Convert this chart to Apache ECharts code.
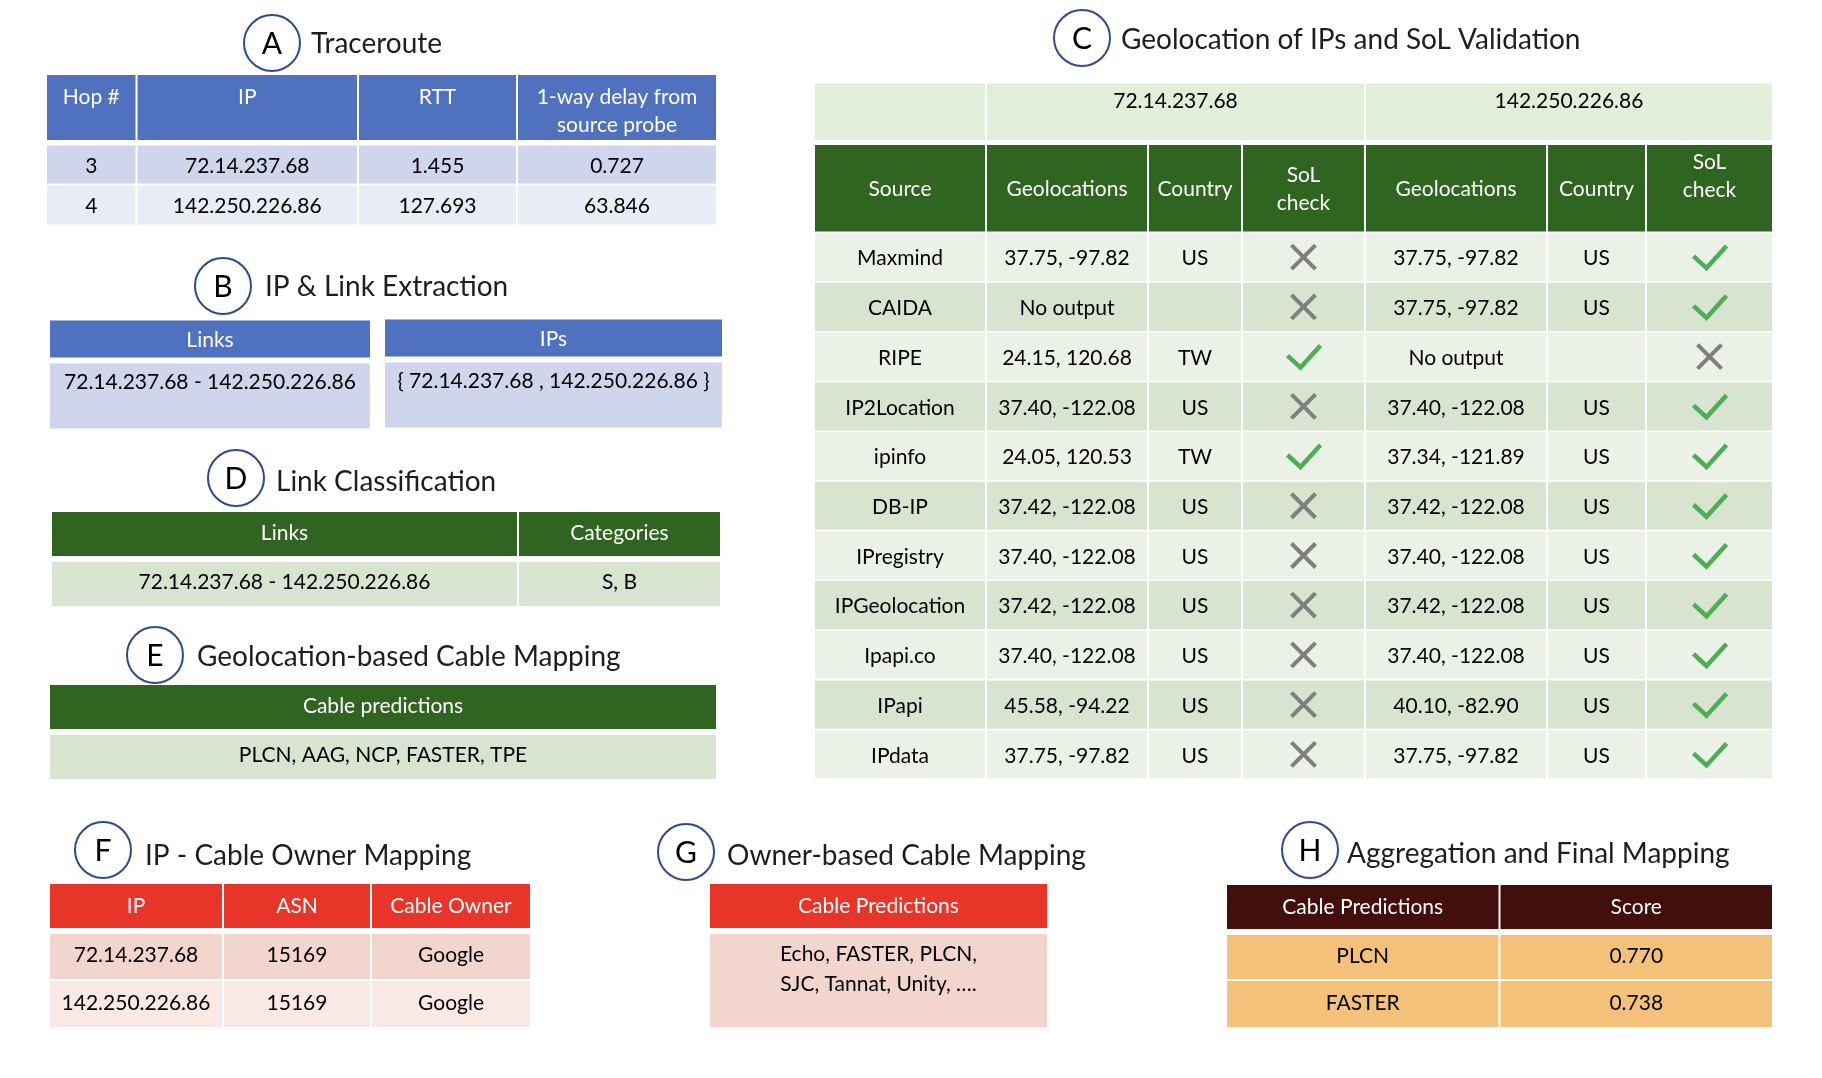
<!DOCTYPE html>
<html><head><meta charset="utf-8">
<script src="https://cdn.jsdelivr.net/npm/echarts@6/dist/echarts.min.js"></script>
<style>html,body{margin:0;padding:0;background:#fff}#chart{width:1822px;height:1078px}</style>
</head><body><div id="chart"></div><script>
// ---------------- DATA ----------------
const traceHeaders = ['Hop #', 'IP', 'RTT', '1-way delay from\nsource probe'];
const traceHops = ['3', '4'];
const traceIPs = ['72.14.237.68', '142.250.226.86'];
const traceRTT = ['1.455', '127.693'];
const traceDelay = ['0.727', '63.846'];

const extractLinkHeader = 'Links';
const extractLinks = ['72.14.237.68 - 142.250.226.86'];
const extractIPHeader = 'IPs';
const extractIPs = ['{ 72.14.237.68 , 142.250.226.86 }'];

const classHeaders = ['Links', 'Categories'];
const classLinks = ['72.14.237.68 - 142.250.226.86'];
const classCategories = ['S, B'];

const geoCableHeader = 'Cable predictions';
const geoCablePredictions = ['PLCN, AAG, NCP, FASTER, TPE'];

const geoIPs = ['72.14.237.68', '142.250.226.86'];
const geoHeaders = ['Source', 'Geolocations', 'Country', 'SoL\ncheck', 'Geolocations', 'Country', 'SoL\ncheck'];
const geoSources = ['Maxmind', 'CAIDA', 'RIPE', 'IP2Location', 'ipinfo', 'DB-IP', 'IPregistry', 'IPGeolocation', 'Ipapi.co', 'IPapi', 'IPdata'];
const ip1Locations = ['37.75, -97.82', 'No output', '24.15, 120.68', '37.40, -122.08', '24.05, 120.53', '37.42, -122.08', '37.40, -122.08', '37.42, -122.08', '37.40, -122.08', '45.58, -94.22', '37.75, -97.82'];
const ip1Countries = ['US', '', 'TW', 'US', 'TW', 'US', 'US', 'US', 'US', 'US', 'US'];
const ip1SoL = [false, false, true, false, true, false, false, false, false, false, false];
const ip2Locations = ['37.75, -97.82', '37.75, -97.82', 'No output', '37.40, -122.08', '37.34, -121.89', '37.42, -122.08', '37.40, -122.08', '37.42, -122.08', '37.40, -122.08', '40.10, -82.90', '37.75, -97.82'];
const ip2Countries = ['US', 'US', '', 'US', 'US', 'US', 'US', 'US', 'US', 'US', 'US'];
const ip2SoL = [true, true, false, true, true, true, true, true, true, true, true];

const ownerHeaders = ['IP', 'ASN', 'Cable Owner'];
const ownerIPs = ['72.14.237.68', '142.250.226.86'];
const ownerASNs = ['15169', '15169'];
const ownerNames = ['Google', 'Google'];

const ownerCableHeader = 'Cable Predictions';
const ownerCablePredictions = ['Echo, FASTER, PLCN,\nSJC, Tannat, Unity, \u2026.'];

const finalHeaders = ['Cable Predictions', 'Score'];
const finalCables = ['PLCN', 'FASTER'];
const finalScores = ['0.770', '0.738'];

const panelLetters = ['A', 'B', 'C', 'D', 'E', 'F', 'G', 'H'];
const panelTitles = ['Traceroute', 'IP & Link Extraction', 'Geolocation of IPs and SoL Validation', 'Link Classification',
  'Geolocation-based Cable Mapping', 'IP - Cable Owner Mapping', 'Owner-based Cable Mapping', 'Aggregation and Final Mapping'];

// ---------------- STYLE / LAYOUT ----------------
const FONT = 'Lato, "Open Sans", sans-serif';
const BODY_PX = 21;
const TITLE_PX = 28;
const LETTER_PX = 30;
const BODY_SHIFT = 1.5;
const C = {
  blue: '#4F71BE', blue1: '#CFD5EA', blue2: '#E9EBF5',
  green: '#306521', greenTop: '#E2EEDA', greenL: '#ECF1E8', greenD: '#D8E3D0',
  red: '#E8352A', red1: '#F2D6CE', red2: '#F8E9E5',
  maroon: '#420F0D', orange: '#F4C17B',
  check: '#4DAE55', cross: '#7F7F7F', circle: '#2E4C8C'
};
const titleLayout = [
  { cx: 272, cy: 43, tx: 311, ty: 44 },
  { cx: 223, cy: 286, tx: 265, ty: 287 },
  { cx: 1082, cy: 38, tx: 1121, ty: 40 },
  { cx: 236, cy: 478, tx: 276, ty: 482 },
  { cx: 155, cy: 655, tx: 197, ty: 657 },
  { cx: 103, cy: 850, tx: 145, ty: 856 },
  { cx: 686, cy: 852, tx: 727, ty: 856 },
  { cx: 1310, cy: 850, tx: 1347, ty: 854 }
];

// ---------------- BUILD ----------------
const grids = [], xAxes = [], yAxes = [], series = [];

function cell(col, row, text, fill, color, extra) {
  return Object.assign({ x0: col[0], x1: col[1], y0: row[0], y1: row[1], text: text, fill: fill, color: color }, extra || {});
}

function addTable(cells) {
  const i = grids.length;
  const bx0 = Math.min(...cells.map(c => c.x0)), bx1 = Math.max(...cells.map(c => c.x1));
  const by0 = Math.min(...cells.map(c => c.y0)), by1 = Math.max(...cells.map(c => c.y1));
  grids.push({ left: bx0, top: by0, width: bx1 - bx0, height: by1 - by0, show: false });
  xAxes.push({ type: 'value', gridIndex: i, min: bx0, max: bx1, show: false });
  yAxes.push({ type: 'value', gridIndex: i, min: by0, max: by1, inverse: true, show: false });
  series.push({
    type: 'custom', xAxisIndex: i, yAxisIndex: i, silent: true, animation: false,
    encode: { x: [0, 2], y: [1, 3] },
    data: cells.map(c => [c.x0, c.y0, c.x1, c.y1]),
    renderItem: function (params, api) {
      const c = cells[params.dataIndex];
      const p0 = api.coord([api.value(0), api.value(1)]);
      const p1 = api.coord([api.value(2), api.value(3)]);
      const x = Math.min(p0[0], p1[0]), y = Math.min(p0[1], p1[1]);
      const w = Math.abs(p1[0] - p0[0]), h = Math.abs(p1[1] - p0[1]);
      const children = [{ type: 'rect', shape: { x: x, y: y, width: w, height: h }, style: { fill: c.fill } }];
      const cx = x + w / 2, cy = y + h / 2 + (c.dy || 0);
      if (c.text) {
        const lh = c.lh || 28;
        const st = {
          text: c.text, x: cx, textAlign: 'center', fill: c.color,
          font: (c.size || BODY_PX) + 'px ' + FONT, lineHeight: lh
        };
        if (c.top != null) { st.y = y + c.top - lh / 2; st.textVerticalAlign = 'top'; }
        else { st.y = cy; st.textVerticalAlign = 'middle'; }
        children.push({ type: 'text', style: st });
      }
      if (c.mark === 'check') {
        children.push({ type: 'polyline', shape: { points: [[cx - 16, cy - 1], [cx - 3, cy + 11], [cx + 17, cy - 11]] },
          style: { stroke: C.check, lineWidth: 4.5, fill: null, lineJoin: 'miter' } });
      } else if (c.mark === 'cross') {
        children.push({ type: 'line', shape: { x1: cx - 12, y1: cy - 12, x2: cx + 12, y2: cy + 12 }, style: { stroke: C.cross, lineWidth: 4 } });
        children.push({ type: 'line', shape: { x1: cx + 12, y1: cy - 12, x2: cx - 12, y2: cy + 12 }, style: { stroke: C.cross, lineWidth: 4 } });
      }
      return { type: 'group', children: children };
    }
  });
}

// A: Traceroute
(function () {
  const cols = [[47, 135.5], [137.5, 357], [359, 516], [518, 716]];
  const rows = [[75, 140], [145.5, 183.5], [185.5, 224.5]];
  const cells = [];
  traceHeaders.forEach((t, j) => cells.push(cell(cols[j], rows[0], t, C.blue, '#fff', { top: 22 })));
  traceHops.forEach((h, r) => {
    const vals = [h, traceIPs[r], traceRTT[r], traceDelay[r]];
    vals.forEach((v, j) => cells.push(cell(cols[j], rows[r + 1], v, r === 0 ? C.blue1 : C.blue2, '#000', { dy: BODY_SHIFT })));
  });
  addTable(cells);
})();

// B: IP & Link Extraction
(function () {
  addTable([
    cell([50, 370], [320.5, 357.5], extractLinkHeader, C.blue, '#fff', { dy: 1 }),
    cell([50, 370], [363.5, 428.5], extractLinks[0], C.blue1, '#000', { top: 19 })
  ]);
  addTable([
    cell([385, 722], [319.5, 356.5], extractIPHeader, C.blue, '#fff', { dy: 1 }),
    cell([385, 722], [362.5, 427.5], extractIPs[0], C.blue1, '#000', { top: 19 })
  ]);
})();

// C: Geolocation and SoL
(function () {
  const cols = [[815, 985], [987, 1147], [1149, 1241], [1243, 1364], [1366, 1546], [1548, 1645], [1647, 1772]];
  const topRow = [83.5, 140];
  const headRow = [145, 231.5];
  const cells = [];
  cells.push(cell(cols[0], topRow, '', C.greenTop, '#000'));
  cells.push(cell([cols[1][0], cols[3][1]], topRow, geoIPs[0], C.greenTop, '#000', { top: 18 }));
  cells.push(cell([cols[4][0], cols[6][1]], topRow, geoIPs[1], C.greenTop, '#000', { top: 18 }));
  const headDy = [1, 1, 1, 1, 1, 1, -12];
  geoHeaders.forEach((t, j) => cells.push(cell(cols[j], headRow, t, C.green, '#fff', { dy: headDy[j] })));
  const rowTop = 233, pitch = 49.73, rowH = 48.2;
  geoSources.forEach((s, r) => {
    const row = [rowTop + r * pitch, rowTop + r * pitch + rowH];
    const fill = r % 2 === 0 ? C.greenL : C.greenD;
    const o = { dy: BODY_SHIFT };
    cells.push(cell(cols[0], row, s, fill, '#000', o));
    cells.push(cell(cols[1], row, ip1Locations[r], fill, '#000', o));
    cells.push(cell(cols[2], row, ip1Countries[r], fill, '#000', o));
    cells.push(cell(cols[3], row, '', fill, '#000', { mark: ip1SoL[r] ? 'check' : 'cross' }));
    cells.push(cell(cols[4], row, ip2Locations[r], fill, '#000', o));
    cells.push(cell(cols[5], row, ip2Countries[r], fill, '#000', o));
    cells.push(cell(cols[6], row, '', fill, '#000', { mark: ip2SoL[r] ? 'check' : 'cross' }));
  });
  addTable(cells);
})();

// D: Link Classification
(function () {
  const cols = [[52, 517], [519, 720]];
  const rows = [[512, 556], [562, 606]];
  const cells = [];
  classHeaders.forEach((t, j) => cells.push(cell(cols[j], rows[0], t, C.green, '#fff', { dy: -1 })));
  cells.push(cell(cols[0], rows[1], classLinks[0], C.greenD, '#000', { dy: -2 }));
  cells.push(cell(cols[1], rows[1], classCategories[0], C.greenD, '#000', { dy: -2 }));
  addTable(cells);
})();

// E: Geolocation-based Cable Mapping
(function () {
  addTable([
    cell([50, 716], [685, 729], geoCableHeader, C.green, '#fff', { dy: -1 }),
    cell([50, 716], [735, 779], geoCablePredictions[0], C.greenD, '#000', { dy: -2 })
  ]);
})();

// F: IP - Cable Owner Mapping
(function () {
  const cols = [[50, 222], [224, 370], [372, 530]];
  const rows = [[884, 928], [934, 979], [981, 1027]];
  const cells = [];
  ownerHeaders.forEach((t, j) => cells.push(cell(cols[j], rows[0], t, C.red, '#fff')));
  ownerIPs.forEach((ip, r) => {
    const fill = r === 0 ? C.red1 : C.red2;
    [ip, ownerASNs[r], ownerNames[r]].forEach((v, j) => cells.push(cell(cols[j], rows[r + 1], v, fill, '#000', { dy: -1 })));
  });
  addTable(cells);
})();

// G: Owner-based Cable Mapping
(function () {
  addTable([
    cell([710, 1047], [884, 928], ownerCableHeader, C.red, '#fff'),
    cell([710, 1047], [934, 1027], ownerCablePredictions[0], C.red1, '#000', { top: 20, lh: 30 })
  ]);
})();

// H: Aggregation and Final Mapping
(function () {
  const cols = [[1227, 1498.5], [1500.5, 1772]];
  const rows = [[885, 929], [935, 979], [981, 1027]];
  const cells = [];
  finalHeaders.forEach((t, j) => cells.push(cell(cols[j], rows[0], t, C.maroon, '#fff')));
  finalCables.forEach((cb, r) => {
    cells.push(cell(cols[0], rows[r + 1], cb, C.orange, '#000', { dy: -1 }));
    cells.push(cell(cols[1], rows[r + 1], finalScores[r], C.orange, '#000', { dy: -1 }));
  });
  addTable(cells);
})();

// Panel titles (circled letters)
const graphics = [];
panelLetters.forEach((L, i) => {
  const t = titleLayout[i];
  graphics.push({ type: 'circle', shape: { cx: t.cx, cy: t.cy, r: 28 }, style: { fill: '#fff', stroke: C.circle, lineWidth: 2 }, silent: true });
  graphics.push({ type: 'text', x: t.cx, y: t.cy + 1, style: { text: L, textAlign: 'center', textVerticalAlign: 'middle', font: LETTER_PX + 'px ' + FONT, fill: '#000' }, silent: true });
  graphics.push({ type: 'text', x: t.tx, y: t.ty, style: { text: panelTitles[i], textAlign: 'left', textVerticalAlign: 'middle', font: TITLE_PX + 'px ' + FONT, fill: '#1e1e1e' }, silent: true });
});

const chart = echarts.init(document.getElementById('chart'), null, { renderer: 'canvas' });
chart.setOption({
  animation: false,
  backgroundColor: '#ffffff',
  grid: grids, xAxis: xAxes, yAxis: yAxes, series: series,
  graphic: graphics
});
</script></body></html>
